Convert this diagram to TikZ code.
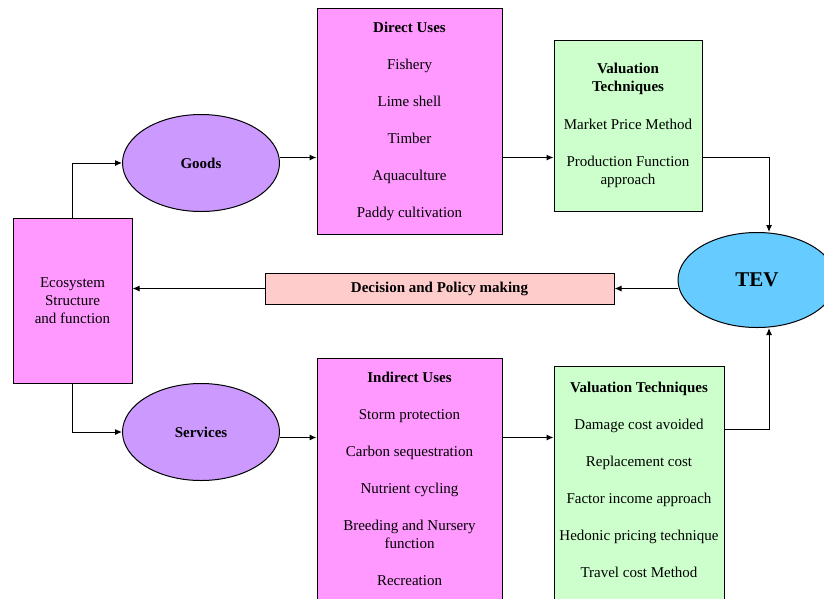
\documentclass[tikz,border=0pt]{standalone}
\usepackage{fontspec}
\setmainfont{Liberation Serif}
\usepackage{color}
\usetikzlibrary{arrows.meta,shapes.geometric}
\definecolor{usepink}{HTML}{FF99FF}
\definecolor{blobpurple}{HTML}{CC99FF}
\definecolor{valgreen}{HTML}{CCFFCC}
\definecolor{tevblue}{HTML}{66CCFF}
\definecolor{policypink}{HTML}{FFCCCC}

\begin{document}
\begin{tikzpicture}[>={Latex[length=7pt,width=6pt]}, x=1pt, y=-1pt, line width=1pt,
	font=\fontsize{15}{18}\selectfont,
	box/.style={draw, rectangle, align=center, inner sep=0pt},
	blob/.style={draw, ellipse, inner sep=0pt, font=\fontsize{15}{18}\selectfont\bfseries}]
	\clip (0,0) rectangle (824,598);
	%\draw [help lines, step=20] (0,0) grid (824,598);
	\node [box, fill=usepink, minimum width=119, minimum height=165] (eco) at (72.5,300.5) {Ecosystem\\Structure\\and function};
	\node [blob, fill=blobpurple, minimum width=157, minimum height=97] (goods) at (201,163) {Goods};
	\node [blob, fill=blobpurple, minimum width=157, minimum height=97] (services) at (201,432) {Services};
	\node [box, fill=usepink, minimum width=185, minimum height=226] (direct) at (409.5,121) {\textbf{Direct Uses}\\[19pt] Fishery\\[19pt] Lime shell\\[19pt] Timber\\[19pt] Aquaculture\\[19pt] Paddy cultivation};
	\node [box, fill=usepink, minimum width=185, minimum height=242] (indirect) at (409.5,479) {\textbf{Indirect Uses}\\[19pt] Storm protection\\[19pt] Carbon sequestration\\[19pt] Nutrient cycling\\[19pt] Breeding and Nursery\\function\\[19pt] Recreation};
	\node [box, fill=valgreen, minimum width=148, minimum height=171] (val1) at (628,125.5) {\textbf{Valuation}\\\textbf{Techniques}\\[20pt] Market Price Method\\[19pt] Production Function\\approach};
	\node [box, fill=valgreen, minimum width=170, minimum height=236] (val2) at (639,484) {\textbf{Valuation Techniques}\\[19pt] Damage cost avoided\\[19pt] Replacement cost\\[19pt] Factor income approach\\[19pt] Hedonic pricing technique\\[19pt] Travel cost Method\\[-10pt]\mbox{}};
	\node [blob, fill=tevblue, minimum width=158, minimum height=95, font=\fontsize{21}{24}\selectfont\bfseries] (tev) at (757,280) {TEV};
	\node [box, fill=policypink, minimum width=349, minimum height=31, font=\fontsize{15}{18}\selectfont\bfseries] (policy) at (439.5,288.5) {Decision and Policy making};
	% goods side
	\draw [->] (eco.north) |- (goods.west);
	\draw [->] (goods.4) -- (goods.4 -| direct.west);
	\draw [->] (goods.4 -| direct.east) -- (goods.4 -| val1.west);
	\draw [->] (goods.4 -| val1.east) -| ([xshift=12pt]tev.north);
	% services side
	\draw [->] (eco.south) |- (services.west);
	\draw [->] (services.-4) -- (services.-4 -| indirect.west);
	\draw [->] (services.-4 -| indirect.east) -- (services.-4 -| val2.west);
	\draw [->] (services.2 -| val2.east) -| ([xshift=12pt]tev.south);
	% feedback
	\draw [->] (tev.west |- policy.east) -- (policy.east);
	\draw [->] (policy.west) -- (policy.west -| eco.east);
\end{tikzpicture}
\end{document}
